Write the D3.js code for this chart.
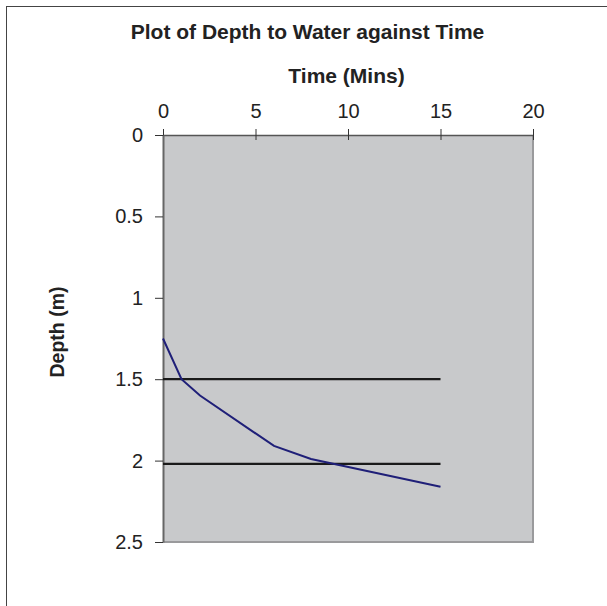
<!DOCTYPE html>
<html><head><meta charset="utf-8">
<script src="https://cdn.jsdelivr.net/npm/d3@7"></script>
<style>body{margin:0;background:#fff}svg{display:block;font-family:"Liberation Sans",Arial,sans-serif}</style>
</head><body>
<script>
const times = [0, 1, 2, 6, 8, 15];
const depths = [1.25, 1.5, 1.6, 1.91, 1.99, 2.16];
const refLevels = [1.5, 2.02];
const refStart = 0, refEnd = 15;
const xTicks = [0, 5, 10, 15, 20];
const yTicks = [0, 0.5, 1, 1.5, 2, 2.5];
const yTickLabels = ["0", "0.5", "1", "1.5", "2", "2.5"];

const W = 607, H = 606;
const svg = d3.select("body").append("svg").attr("width", W).attr("height", H);
const m = {left: 163, top: 135, right: 533, bottom: 542};
const x = d3.scaleLinear().domain([0, 20]).range([m.left, m.right]);
const y = d3.scaleLinear().domain([0, 2.5]).range([m.top, m.bottom]);
const FF = "Liberation Sans, Arial, sans-serif";

// outer frame
svg.append("rect").attr("x", 6.5).attr("y", 6.5).attr("width", 640).attr("height", 640)
  .attr("fill", "none").attr("stroke", "#444").attr("stroke-width", 1);

// plot area
svg.append("rect").attr("x", m.left).attr("y", m.top).attr("width", m.right - m.left).attr("height", m.bottom - m.top)
  .attr("fill", "#c8c9cb");
svg.append("line").attr("x1", m.right).attr("x2", m.right).attr("y1", m.top).attr("y2", m.bottom + 1)
  .attr("stroke", "#9a9a9c").attr("stroke-width", 2);
svg.append("line").attr("x1", m.left).attr("x2", m.right).attr("y1", m.bottom).attr("y2", m.bottom)
  .attr("stroke", "#9a9a9c").attr("stroke-width", 2);

// axes
const xAxis = svg.append("g").attr("transform", `translate(0,${m.top})`)
  .call(d3.axisTop(x).tickValues(xTicks).tickSize(6).tickSizeOuter(0));
xAxis.attr("font-size", 20).attr("font-family", FF);
xAxis.select(".domain").attr("stroke", "#555").attr("stroke-width", 1.5);
xAxis.selectAll(".tick line").attr("stroke", "#333").attr("y1", 5).attr("y2", -6);
xAxis.selectAll(".tick text").attr("fill", "#222").attr("y", -17).attr("dy", 0);

const yAxis = svg.append("g").attr("transform", `translate(${m.left},0)`)
  .call(d3.axisLeft(y).tickValues(yTicks).tickFormat((d, i) => yTickLabels[i]).tickSize(8).tickSizeOuter(0));
yAxis.attr("font-size", 20).attr("font-family", FF);
yAxis.select(".domain").attr("stroke", "#666").attr("stroke-width", 2);
yAxis.selectAll(".tick line").attr("stroke", "#333");
yAxis.selectAll(".tick text").attr("fill", "#222").attr("x", -20);

// reference lines
svg.selectAll(".ref").data(refLevels).enter().append("line")
  .attr("x1", x(refStart)).attr("x2", x(refEnd))
  .attr("y1", d => y(d)).attr("y2", d => y(d))
  .attr("stroke", "#1a1a1a").attr("stroke-width", 2.2);

// data line
const pts = times.map((t, i) => [t, depths[i]]);
svg.append("path").datum(pts)
  .attr("d", d3.line().x(d => x(d[0])).y(d => y(d[1])))
  .attr("fill", "none").attr("stroke", "#1f1f78").attr("stroke-width", 2);

// titles
svg.append("text").attr("x", 307.5).attr("y", 39).attr("text-anchor", "middle")
  .attr("font-size", 21).attr("font-weight", "bold").attr("fill", "#222").text("Plot of Depth to Water against Time");
svg.append("text").attr("x", 346.5).attr("y", 83).attr("text-anchor", "middle")
  .attr("font-size", 21).attr("font-weight", "bold").attr("fill", "#222").text("Time (Mins)");
svg.append("text").attr("transform", `translate(64,332) rotate(-90)`).attr("text-anchor", "middle")
  .attr("font-size", 19.5).attr("font-weight", "bold").attr("fill", "#222").text("Depth (m)");
</script>
</body></html>
